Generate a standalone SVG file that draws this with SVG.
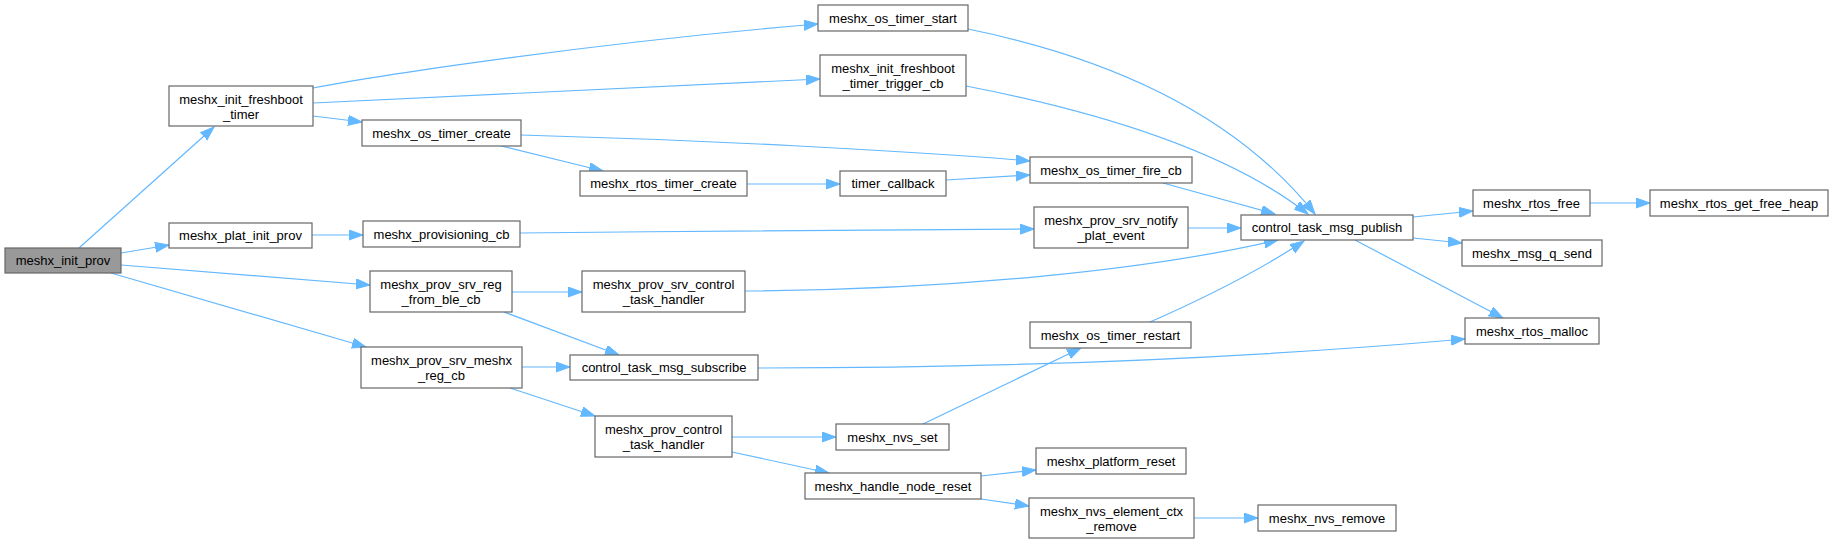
<svg xmlns="http://www.w3.org/2000/svg" width="1833" height="544" viewBox="0 0 1833 544">
<style>
.n rect{fill:#ffffff;stroke:#666666;stroke-width:1.2}
.root rect{fill:#999999;stroke:#666666;stroke-width:1.2}
text{font-family:"Liberation Sans",Arial,Helvetica,sans-serif;font-size:13px;fill:#000000;text-anchor:middle}
.e path{fill:none;stroke:#63b8ff;stroke-width:1.2;marker-end:url(#ah)}
</style>
<defs>
<marker id="ah" markerUnits="userSpaceOnUse" markerWidth="15" markerHeight="11" refX="14" refY="5" orient="auto">
<path d="M0,0 L14,5 L0,10 z" fill="#63b8ff" stroke="#63b8ff" stroke-width="1"/>
</marker>
</defs>
<rect width="1833" height="544" fill="#ffffff"/>
<g id="edges" class="e">
<path d="M79,248 L214,127"/>
<path d="M121,253 L169,245"/>
<path d="M121,265 L370,285"/>
<path d="M111,273 L366,347"/>
<path d="M313,88 C380,75 600,42 818,24"/>
<path d="M313,103 C480,96 650,88 820,79"/>
<path d="M313,116 L362,122"/>
<path d="M501,146 L603,171"/>
<path d="M521,135 C700,140 900,150 1030,161"/>
<path d="M747,184 L840,184"/>
<path d="M946,180 L1030,175"/>
<path d="M312,235 L363,235"/>
<path d="M520,233 C700,231 900,230 1034,229"/>
<path d="M512,292 L582,292"/>
<path d="M504,312 L619,355"/>
<path d="M522,367 L570,367"/>
<path d="M510,388 L595,416"/>
<path d="M968,29 C1120,60 1240,120 1315,214"/>
<path d="M966,86 C1080,108 1220,145 1308,214"/>
<path d="M1163,183 L1275,214"/>
<path d="M1188,228 L1241,228"/>
<path d="M745,291 C950,290 1150,270 1278,240"/>
<path d="M1150,322 C1200,300 1260,270 1304,241"/>
<path d="M758,368 C1000,368 1250,358 1465,339"/>
<path d="M732,437 L836,437"/>
<path d="M732,452 L829,473"/>
<path d="M923,424 L1081,348"/>
<path d="M981,476 L1036,470"/>
<path d="M981,499 L1029,506"/>
<path d="M1193,518 L1258,518"/>
<path d="M1413,217 L1473,211"/>
<path d="M1413,238 L1462,243"/>
<path d="M1355,240 L1503,318"/>
<path d="M1590,203 L1650,203"/>
</g>
<g id="n1" class="root"><rect x="5" y="248" width="116" height="25"/><text x="63" y="265">meshx_init_prov</text></g>
<g id="n2" class="n"><rect x="169" y="86" width="144" height="40"/><text x="241" y="103.5">meshx_init_freshboot</text><text x="241" y="118.5">_timer</text></g>
<g id="n3" class="n"><rect x="818" y="5" width="150" height="26"/><text x="893" y="22.5">meshx_os_timer_start</text></g>
<g id="n4" class="n"><rect x="820" y="55" width="146" height="41"/><text x="893" y="72.5">meshx_init_freshboot</text><text x="893" y="87.5">_timer_trigger_cb</text></g>
<g id="n5" class="n"><rect x="362" y="120" width="159" height="26"/><text x="441.5" y="137.5">meshx_os_timer_create</text></g>
<g id="n6" class="n"><rect x="580" y="171" width="167" height="25"/><text x="663.5" y="188">meshx_rtos_timer_create</text></g>
<g id="n7" class="n"><rect x="840" y="171" width="106" height="25"/><text x="893" y="188">timer_callback</text></g>
<g id="n8" class="n"><rect x="1030" y="157" width="162" height="26"/><text x="1111" y="174.5">meshx_os_timer_fire_cb</text></g>
<g id="n9" class="n"><rect x="1241" y="215" width="172" height="25"/><text x="1327" y="232">control_task_msg_publish</text></g>
<g id="n10" class="n"><rect x="169" y="223" width="143" height="25"/><text x="240.5" y="240">meshx_plat_init_prov</text></g>
<g id="n11" class="n"><rect x="363" y="221" width="157" height="26"/><text x="441.5" y="238.5">meshx_provisioning_cb</text></g>
<g id="n12" class="n"><rect x="1034" y="207" width="154" height="41"/><text x="1111" y="224.5">meshx_prov_srv_notify</text><text x="1111" y="239.5">_plat_event</text></g>
<g id="n13" class="n"><rect x="370" y="271" width="142" height="41"/><text x="441" y="288.5">meshx_prov_srv_reg</text><text x="441" y="303.5">_from_ble_cb</text></g>
<g id="n14" class="n"><rect x="582" y="271" width="163" height="41"/><text x="663.5" y="288.5">meshx_prov_srv_control</text><text x="663.5" y="303.5">_task_handler</text></g>
<g id="n15" class="n"><rect x="361" y="347" width="161" height="41"/><text x="441.5" y="364.5">meshx_prov_srv_meshx</text><text x="441.5" y="379.5">_reg_cb</text></g>
<g id="n16" class="n"><rect x="570" y="355" width="188" height="25"/><text x="664" y="372">control_task_msg_subscribe</text></g>
<g id="n17" class="n"><rect x="595" y="416" width="137" height="41"/><text x="663.5" y="433.5">meshx_prov_control</text><text x="663.5" y="448.5">_task_handler</text></g>
<g id="n18" class="n"><rect x="1030" y="322" width="161" height="26"/><text x="1110.5" y="339.5">meshx_os_timer_restart</text></g>
<g id="n19" class="n"><rect x="836" y="424" width="113" height="26"/><text x="892.5" y="441.5">meshx_nvs_set</text></g>
<g id="n20" class="n"><rect x="805" y="473" width="176" height="26"/><text x="893" y="490.5">meshx_handle_node_reset</text></g>
<g id="n21" class="n"><rect x="1036" y="448" width="150" height="26"/><text x="1111" y="465.5">meshx_platform_reset</text></g>
<g id="n22" class="n"><rect x="1029" y="498" width="165" height="40"/><text x="1111.5" y="515.5">meshx_nvs_element_ctx</text><text x="1111.5" y="530.5">_remove</text></g>
<g id="n23" class="n"><rect x="1258" y="505" width="138" height="26"/><text x="1327" y="522.5">meshx_nvs_remove</text></g>
<g id="n24" class="n"><rect x="1473" y="190" width="117" height="26"/><text x="1531.5" y="207.5">meshx_rtos_free</text></g>
<g id="n25" class="n"><rect x="1650" y="190" width="178" height="26"/><text x="1739" y="207.5">meshx_rtos_get_free_heap</text></g>
<g id="n26" class="n"><rect x="1462" y="240" width="140" height="26"/><text x="1532" y="257.5">meshx_msg_q_send</text></g>
<g id="n27" class="n"><rect x="1465" y="318" width="134" height="26"/><text x="1532" y="335.5">meshx_rtos_malloc</text></g>
</svg>
